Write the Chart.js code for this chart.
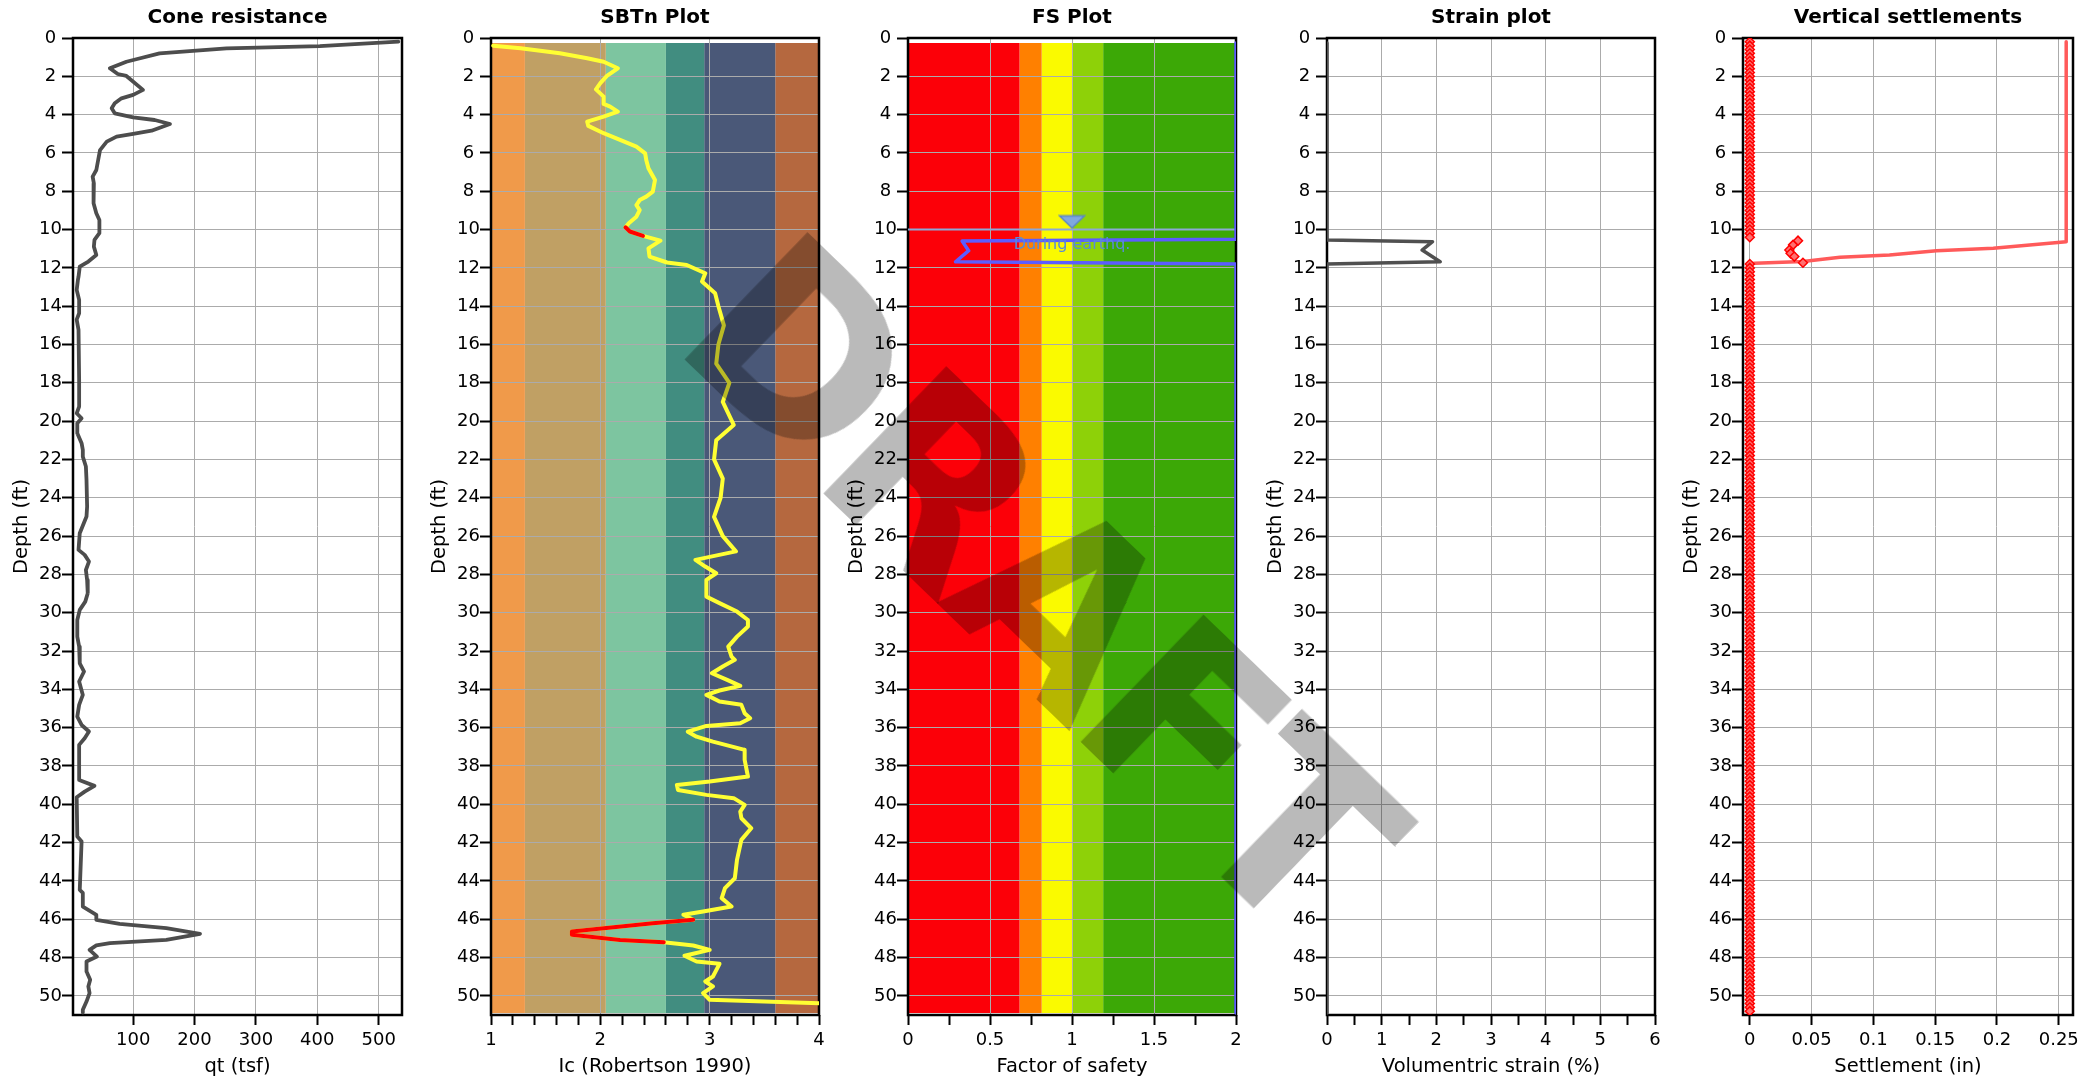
<!DOCTYPE html>
<html><head><meta charset="utf-8">
<script src="https://cdn.jsdelivr.net/npm/chart.js@4.4.1/dist/chart.umd.min.js"></script>
<style>
html,body{margin:0;padding:0;background:#fff;overflow:hidden;width:2098px;height:1080px;position:relative;}
canvas{position:absolute;top:0;}
#draft{position:absolute;left:1038px;top:584px;transform:translate(-50%,-50%) rotate(44deg);font:bold 242px 'DejaVu Sans',sans-serif;letter-spacing:-8px;color:rgba(0,0,0,0.27);white-space:nowrap;line-height:1;pointer-events:none;}
</style></head><body>
<canvas id="c1" width="432" height="1080" style="left:0px"></canvas>
<canvas id="c2" width="431" height="1080" style="left:418px"></canvas>
<canvas id="c3" width="431" height="1080" style="left:835px"></canvas>
<canvas id="c4" width="431" height="1080" style="left:1254px"></canvas>
<canvas id="c5" width="428" height="1080" style="left:1670px"></canvas>
<div id="draft">DRAFT</div>
<script>
// ---------------- DATA ----------------
const depthMin = 0, depthMax = 51;
const titles = ['Cone resistance','SBTn Plot','FS Plot','Strain plot','Vertical settlements'];
const xTitles = ['qt (tsf)','Ic (Robertson 1990)','Factor of safety','Volumentric strain (%)','Settlement (in)'];
const yTitle = 'Depth (ft)';

// Cone resistance qt (tsf)
const coneDepth = [0.19,0.42,0.54,0.8,1.11,1.24,1.58,1.88,1.98,2.71,2.97,3.15,3.41,3.67,3.93,4.14,4.28,4.49,4.84,5.01,5.15,5.41,5.85,6.37,6.89,7.24,7.59,8.1,8.63,9.15,9.5,10.19,10.54,10.89,11.33,11.67,11.94,12.46,12.63,13.15,13.67,14.37,14.7,15.24,17.85,19.24,19.59,19.85,20.11,20.63,21.15,21.5,21.85,22.37,23.07,24.46,24.98,25.85,26.72,26.98,27.33,27.77,28.29,28.98,29.42,29.85,30.38,31.25,31.77,32.64,33.07,33.59,34.29,34.81,35.42,35.86,36.2,36.55,36.9,38.55,38.73,39.04,39.34,39.63,41.68,41.94,44.47,44.62,45.34,45.77,46.03,46.24,46.47,46.76,47.08,47.25,47.37,47.6,47.95,48.21,48.73,49.16,49.51,49.86,50.3,50.73,50.87];
const coneQt = [532,404,252,143,105,89,62,75,89,116,100,81,70,65,70,100,135,160,130,100,73,57,46,43,40,34,36,35,36,40,45,45,37,36,40,27,13,11,10,8,12,12,8,11,12,12,8,16,9,9,16,18,18,23,24,25,24,13,11,21,28,23,25,26,22,13,9,9,12,13,20,12,18,12,9,16,28,21,12,12,12,37,21,8,9,16,13,18,18,40,40,78,154,209,154,62,40,29,41,24,24,30,27,29,24,18,18];

// SBTn Ic
const icDepth = [0.4,0.54,0.8,1.06,1.24,1.58,1.98,2.36,2.68,3.06,3.44,3.58,3.84,4.1,4.37,4.59,4.97,5.32,5.67,6.02,6.37,6.8,7.41,8.02,8.28,8.46,8.72,8.98,9.33,9.67,9.88,10.1,10.33,10.58,10.98,11.41,11.72,11.85,12.28,12.71,13.32,14,15,16,17,18,19,20.2,21,22,23,24,25,26,26.8,27.24,27.59,27.94,28.29,28.64,29.16,29.5,29.94,30.38,30.72,31.25,31.77,32.29,32.46,32.81,33.16,33.51,33.82,34.06,34.29,34.64,34.81,35.25,35.51,35.77,35.91,36.21,36.47,36.73,37.16,37.68,38.55,38.81,38.99,39.25,39.51,39.68,40.03,40.38,40.73,41.25,41.86,42.9,43.86,44.38,44.9,45.34,45.6,45.77,46.03,46.21,46.64,46.81,47.08,47.2,47.37,47.6,47.91,48.21,48.33,48.99,49.25,49.51,49.86,50.21,50.39];
const icVal = [1.02,1.27,1.63,1.88,2.03,2.16,2.06,2.0,1.96,2.03,2.03,2.09,2.16,2.03,1.88,1.89,2.03,2.18,2.33,2.41,2.42,2.44,2.5,2.48,2.42,2.36,2.33,2.36,2.33,2.26,2.23,2.27,2.39,2.55,2.44,2.45,2.61,2.79,2.96,2.93,3.05,3.08,3.13,3.08,3.06,3.18,3.12,3.22,3.06,3.04,3.12,3.1,3.04,3.12,3.24,2.87,2.96,3.06,2.97,2.97,2.97,3.09,3.25,3.35,3.35,3.25,3.17,3.2,3.23,3.12,3.02,3.16,3.28,3.09,2.97,3.09,3.29,3.32,3.37,3.28,2.97,2.8,2.88,3.03,3.32,3.32,3.35,3.0,2.7,2.71,2.97,3.22,3.32,3.28,3.29,3.38,3.29,3.25,3.23,3.14,3.11,3.2,2.94,2.76,2.85,2.48,1.74,1.74,2.18,2.58,2.85,3.0,2.77,2.88,3.09,3.03,2.96,3.03,2.94,3.0,4.0];
const icLiqDepth1 = [9.88,10.1,10.33];
const icLiq1 = [2.23,2.27,2.39];
const icLiqDepth2 = [46.03,46.21,46.64,46.81,47.08,47.2];
const icLiq2 = [2.85,2.48,1.74,1.74,2.18,2.58];
const sbtBounds = [1,1.31,2.05,2.6,2.95,3.6,4];
const sbtColors = ['#F09A4A','#C0A064','#7DC5A0','#418D80','#4A5878','#B5683F'];
const zoneDepth = [0.26,50.9];

// FS
const fsDepth = [0.26,10.5,10.6,11.1,11.68,11.8,50.9];
const fsVal = [2,2,0.33,0.37,0.29,2,2];
const fsBounds = [0,0.68,0.815,1.0,1.19,2];
const fsColors = ['#FC0008','#FF8000','#FAFA00','#8ED108','#3CA806'];
const waterDepth = [10,10];
const waterFS = [0,2];
const waterMarkDepth = [9.6];
const waterMarkFS = [1.0];
const eqLabel = 'During earthq.';
const eqLabelAt = {fs:1.0, depth:10.8};

// Strain
const strainDepth = [0.26,10.54,10.63,11.07,11.68,11.8,50.9];
const strainVal = [0,0,1.93,1.74,2.07,0,0];

// Settlement
const settleDepth = [0.19,10.63,10.98,11.1,11.33,11.45,11.67,11.76,11.8,50.9];
const settleVal = [0.256,0.256,0.197,0.151,0.113,0.073,0.043,0.004,0,0];
const layerMarkDepth = [10.58,10.8,11.07,11.24,11.41,11.73];
const layerMarkVal = [0.039,0.035,0.032,0.033,0.036,0.043];
const zeroMarkDepth = [0.2,0.4,0.6,0.8,1,1.2,1.4,1.6,1.8,2,2.2,2.4,2.6,2.8,3,3.2,3.4,3.6,3.8,4,4.2,4.4,4.6,4.8,5,5.2,5.4,5.6,5.8,6,6.2,6.4,6.6,6.8,7,7.2,7.4,7.6,7.8,8,8.2,8.4,8.6,8.8,9,9.2,9.4,9.6,9.8,10,10.2,10.4,
11.8,12,12.2,12.4,12.6,12.8,13,13.2,13.4,13.6,13.8,14,14.2,14.4,14.6,14.8,15,15.2,15.4,15.6,15.8,16,16.2,16.4,16.6,16.8,17,17.2,17.4,17.6,17.8,18,18.2,18.4,18.6,18.8,19,19.2,19.4,19.6,19.8,20,20.2,20.4,20.6,20.8,21,21.2,21.4,21.6,21.8,22,22.2,22.4,22.6,22.8,23,23.2,23.4,23.6,23.8,24,24.2,24.4,24.6,24.8,25,25.2,25.4,25.6,25.8,26,26.2,26.4,26.6,26.8,27,27.2,27.4,27.6,27.8,28,28.2,28.4,28.6,28.8,29,29.2,29.4,29.6,29.8,30,30.2,30.4,30.6,30.8,31,31.2,31.4,31.6,31.8,32,32.2,32.4,32.6,32.8,33,33.2,33.4,33.6,33.8,34,34.2,34.4,34.6,34.8,35,35.2,35.4,35.6,35.8,36,36.2,36.4,36.6,36.8,37,37.2,37.4,37.6,37.8,38,38.2,38.4,38.6,38.8,39,39.2,39.4,39.6,39.8,40,40.2,40.4,40.6,40.8,41,41.2,41.4,41.6,41.8,42,42.2,42.4,42.6,42.8,43,43.2,43.4,43.6,43.8,44,44.2,44.4,44.6,44.8,45,45.2,45.4,45.6,45.8,46,46.2,46.4,46.6,46.8,47,47.2,47.4,47.6,47.8,48,48.2,48.4,48.6,48.8,49,49.2,49.4,49.6,49.8,50,50.2,50.4,50.6,50.8];

// x axis ranges: [min, max, tick step, labelled step]
const xRanges = [[2,538,100,100],[1,4,0.2,1],[0,2,0.25,0.5],[0,6,0.5,1],[-0.0055,0.2615,0.05,0.05]];

// ---------------- HELPERS ----------------
const FT = "'DejaVu Sans',sans-serif";
const FL = "'DejaVu Sans',sans-serif";
function pts(vals, depths){ return vals.map((v,i)=>({x:v, y:depths[i]})); }
function isMajor(v, major){ const r = v/major; return Math.abs(r-Math.round(r)) < 1e-6; }
function fmt(v){ return String(+(+v).toFixed(4)); }

function bandSets(bounds, colors){
  return colors.map((c,i)=>({
    data:[{x:bounds[i],y:zoneDepth[0]},{x:bounds[i+1],y:zoneDepth[0]},{x:bounds[i+1],y:zoneDepth[1]},{x:bounds[i],y:zoneDepth[1]}],
    fill:'shape', backgroundColor:c, borderColor:'rgba(0,0,0,0)', borderWidth:0, pointRadius:0, order:20
  }));
}
function line(data, color, width, order){
  return {data, borderColor:color, borderWidth:width, pointRadius:0, fill:false, borderJoinStyle:'round', borderCapStyle:'round', order:order||1};
}

const framePlugin = {id:'frame', beforeDatasetsDraw(chart){
  const {ctx, chartArea:a} = chart; ctx.save(); ctx.strokeStyle='#000'; ctx.lineWidth=2.5;
  ctx.strokeRect(a.left, a.top, a.right-a.left, a.bottom-a.top); ctx.restore(); }};

function makeChart(idx, datasets, extraPlugins, padRight){
  const [mn, mx, step, major] = xRanges[idx];
  return new Chart(document.getElementById('c'+(idx+1)), {
    type:'line',
    data:{datasets},
    plugins:[framePlugin].concat(extraPlugins||[]),
    options:{
      responsive:false, animation:false, events:[],
      layout:{padding:{left:0,right:padRight,top:0,bottom:0}},
      elements:{point:{radius:0}, line:{tension:0}},
      plugins:{
        legend:{display:false}, tooltip:{enabled:false},
        filler:{drawTime:'beforeDraw'},
        title:{display:true, text:titles[idx], fullSize:false, color:'#000', font:{family:FL, size:20, weight:'bold'}, padding:{top:6,bottom:8}}
      },
      scales:{
        x:{type:'linear', position:'bottom', min:mn, max:mx,
          afterFit(s){ s.height = 65; },
          ticks:{stepSize:step, includeBounds:false, autoSkip:false, maxRotation:0, color:'#000', padding:5,
            font:{family:FT, size:18}, callback:(v)=> isMajor(v, major) ? fmt(v) : ''},
          grid:{color:(c)=> (c.tick && isMajor(c.tick.value, major)) ? '#ababab' : 'rgba(0,0,0,0)', lineWidth:1,
            tickColor:'#000', tickLength:10, tickWidth:2},
          border:{display:false},
          title:{display:true, text:xTitles[idx], color:'#000', font:{family:FL, size:19.5}, padding:{top:0,bottom:1}}
        },
        y:{type:'linear', position:'left', reverse:true, min:depthMin, max:depthMax,
          afterFit(s){ s.width = 73; },
          ticks:{stepSize:2, includeBounds:false, autoSkip:false, color:'#000', padding:0, crossAlign:'center', font:{family:FT, size:18}},
          grid:{color:'#ababab', lineWidth:1, tickColor:'#000', tickLength:11, tickWidth:2},
          border:{display:false},
          title:{display:true, text:yTitle, color:'#000', font:{family:FL, size:19.5}, padding:{top:10,bottom:0}}
        }
      }
    }
  });
}

// ---------------- CHARTS ----------------
makeChart(0, [ line(pts(coneQt, coneDepth), '#4d4d4d', 3.8) ], [], 30);

makeChart(1, bandSets(sbtBounds, sbtColors).concat([
  line(pts(icVal, icDepth), '#FFFF33', 4, 2),
  line(pts(icLiq1, icLiqDepth1), '#FF0000', 4, 1),
  line(pts(icLiq2, icLiqDepth2), '#FF0000', 4, 1)
]), [], 30);

const tri = document.createElement('canvas'); tri.width = 28; tri.height = 15;
(function(){ const t = tri.getContext('2d'); t.beginPath(); t.moveTo(1.5,1.5); t.lineTo(26.5,1.5); t.lineTo(14,13.5); t.closePath();
  t.fillStyle='#7FA8E0'; t.fill(); t.strokeStyle='#5A86C8'; t.lineWidth=1.5; t.stroke(); })();

const eqLabelPlugin = {id:'eqLabel', afterDatasetsDraw(chart){
  const ctx = chart.ctx; const x = chart.scales.x.getPixelForValue(eqLabelAt.fs); const y = chart.scales.y.getPixelForValue(eqLabelAt.depth);
  ctx.save(); ctx.font = "16px " + FL; ctx.fillStyle = '#5A8AD8'; ctx.textAlign='center'; ctx.textBaseline='middle'; ctx.fillText(eqLabel, x, y); ctx.restore(); }};

makeChart(2, bandSets(fsBounds, fsColors).concat([
  line(pts(waterFS, waterDepth), '#8DA8D6', 2, 3),
  {data:pts(waterMarkFS, waterMarkDepth), showLine:false, pointStyle:tri, pointRadius:7, order:0},
  line(pts(fsVal, fsDepth), '#5C5CFF', 3.5, 1)
]), [eqLabelPlugin], 30);

makeChart(3, [ line(pts(strainVal, strainDepth), '#505050', 3.5) ], [], 30);

makeChart(4, [
  {data:pts(zeroMarkDepth.map(()=>0), zeroMarkDepth), showLine:false, pointStyle:'rectRot', pointRadius:4.5, pointBackgroundColor:'#FF7070', pointBorderColor:'#FF0000', pointBorderWidth:1.5, order:0},
  {data:pts(layerMarkVal, layerMarkDepth), showLine:false, pointStyle:'rectRot', pointRadius:4.5, pointBackgroundColor:'#FF7070', pointBorderColor:'#FF0000', pointBorderWidth:1.5, order:0},
  line(pts(settleVal, settleDepth), '#FF5A5A', 3.5, 2)
], [], 25);
</script>
</body></html>
